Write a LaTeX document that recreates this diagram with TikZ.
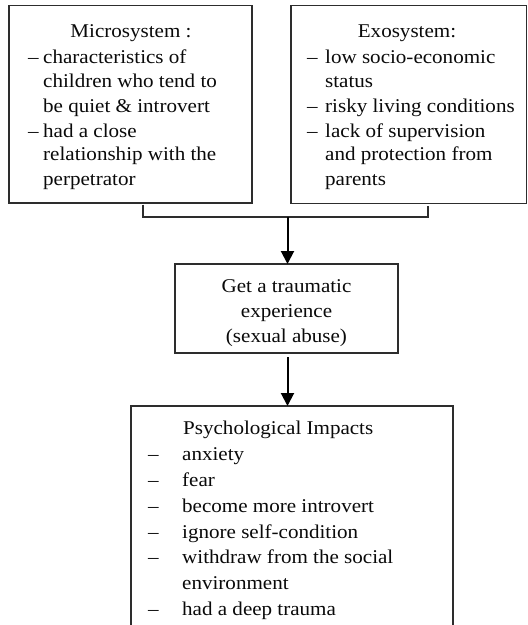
\documentclass[tikz,border=0pt]{standalone}
\usepackage{fontspec}
\setmainfont[FakeStretch=1.08]{Liberation Serif}
\usetikzlibrary{arrows.meta}
\definecolor{linec}{RGB}{45,45,45}
\definecolor{textc}{RGB}{10,10,10}
\begin{document}
\begin{tikzpicture}[x=1pt,y=-1pt,
  box/.style={draw=linec,line width=1.1pt,inner sep=0pt,outer sep=0pt},
  txt/.style={anchor=base west,inner sep=0pt,text=textc,font=\fontsize{19.5}{24}\selectfont},
  ctxt/.style={anchor=base,inner sep=0pt,text=textc,font=\fontsize{19.5}{24}\selectfont},
  conn/.style={draw=linec,line width=1.1pt},
  arr/.style={draw=black,line width=2pt,-{Triangle[length=13pt,width=13pt]}}]
\clip (0,0) rectangle (528,625);
\fill[white] (0,0) rectangle (528,625);
% boxes
\node[box,minimum width=243pt,minimum height=197.5pt] (lb) at (130.5,104.25) {};
\node[box,minimum width=235.5pt,minimum height=198pt] (rb) at (408.75,104.5) {};
\node[box,minimum width=223pt,minimum height=89pt] (mid) at (286.5,308.5) {};
\node[box,minimum width=322pt,minimum height=260pt] (bot) at (292,536) {};
% left box text
\node[ctxt] (lt0) at (131,37) {Microsystem :};
\node[txt] (ld1) at (28,63) {–};
\node[txt] (lt1) at (43,63) {characteristics of};
\node[txt] (lt2) at (43,87) {children who tend to};
\node[txt] (lt3) at (43,112) {be quiet \& introvert};
\node[txt] (ld2) at (28,137) {–};
\node[txt] (lt4) at (43,137) {had a close};
\node[txt] (lt5) at (43,160) {relationship with the};
\node[txt] (lt6) at (43,185) {perpetrator};
% right box text
\node[ctxt] (rt0) at (407,37) {Exosystem:};
\node[txt] (rd1) at (307,63) {–};
\node[txt] (rt1) at (325,63) {low socio-economic};
\node[txt] (rt2) at (325,87) {status};
\node[txt] (rd2) at (307,112) {–};
\node[txt] (rt3) at (325,112) {risky living conditions};
\node[txt] (rd3) at (307,137) {–};
\node[txt] (rt4) at (325,137) {lack of supervision};
\node[txt] (rt5) at (325,160) {and protection from};
\node[txt] (rt6) at (325,185) {parents};
% middle box text
\node[ctxt] (mt1) at (286.5,292) {Get a traumatic};
\node[ctxt] (mt2) at (286.5,317) {experience};
\node[ctxt] (mt3) at (286.5,342) {(sexual abuse)};
% bottom box text
\node[txt] (bt0) at (183,434) {Psychological Impacts};
\node[txt] (bd1) at (148,460) {–};
\node[txt] (bt1) at (182,460) {anxiety};
\node[txt] (bd2) at (148,486) {–};
\node[txt] (bt2) at (182,486) {fear};
\node[txt] (bd3) at (148,512) {–};
\node[txt] (bt3) at (182,512) {become more introvert};
\node[txt] (bd4) at (148,538) {–};
\node[txt] (bt4) at (182,538) {ignore self-condition};
\node[txt] (bd5) at (148,563.5) {–};
\node[txt] (bt5) at (182,563.5) {withdraw from the social};
\node[txt] (bt6) at (182,589.5) {environment};
\node[txt] (bd7) at (148,615) {–};
\node[txt] (bt7) at (182,615) {had a deep trauma};
% bracket and arrows
\coordinate (tickL) at (143,204.5);
\coordinate (tickR) at (428,205.5);
\coordinate (junc) at (287.5,217);
\draw[conn] (tickL) |- (junc) -| (tickR);
\draw[arr] (junc) -- (junc |- mid.north);
\draw[arr,shorten <=4pt] (junc |- mid.south) -- (junc |- bot.north);
\end{tikzpicture}
\end{document}
